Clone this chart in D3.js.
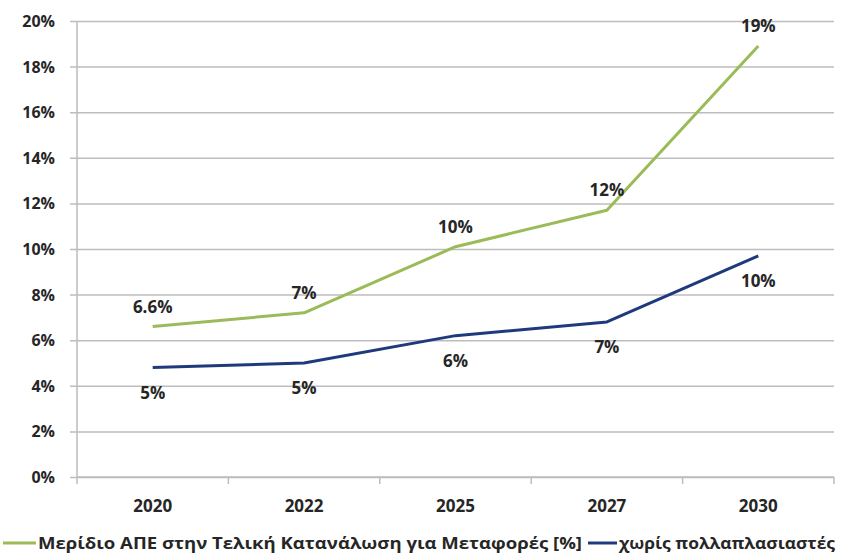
<!DOCTYPE html>
<html>
<head>
<meta charset="utf-8">
<script src="https://cdn.jsdelivr.net/npm/d3@7"></script>
<style>
  html, body { margin: 0; padding: 0; background: #fff; }
  svg { display: block; }
  text { font-family: "Open Sans", "DejaVu Sans", sans-serif; font-weight: 700; fill: #262626; }
</style>
</head>
<body>
<svg id="chart" width="844" height="553"></svg>
<script>
// Years on the category axis
const years = ["2020", "2022", "2025", "2027", "2030"];
// RES share in final transport energy consumption (%)
const resShare = [6.6, 7.2, 10.1, 11.7, 18.9];
const resShareLabels = ["6.6%", "7%", "10%", "12%", "19%"];
// Same share without multipliers (%)
const noMultipliers = [4.8, 5.0, 6.2, 6.8, 9.7];
const noMultipliersLabels = ["5%", "5%", "6%", "7%", "10%"];
// Value axis ticks (%)
const yTicks = [0, 2, 4, 6, 8, 10, 12, 14, 16, 18, 20];
// Legend entries
const seriesNames = ["Μερίδιο ΑΠΕ στην Τελική Κατανάλωση για Μεταφορές [%]", "χωρίς πολλαπλασιαστές"];

const svg = d3.select("#chart");
const plotL = 77, plotR = 834, plotT = 21, plotB = 477;
const green = "#9bbb59", navy = "#1f3a7c", grid = "#bdbdbd";

const x = d3.scaleBand().domain(years).range([plotL, plotR]).padding(0);
const y = d3.scaleLinear().domain([0, 20]).range([plotB, plotT]);
const cx = d => x(d) + x.bandwidth() / 2;

// Horizontal gridlines with outward ticks
const yAxis = d3.axisLeft(y).tickValues(yTicks).tickFormat(d => d + "%")
  .tickSize(-(plotR - plotL)).tickPadding(15);
const gy = svg.append("g").attr("transform", `translate(${plotL},0)`).call(yAxis);
gy.select(".domain").remove();
gy.selectAll(".tick line").attr("stroke", grid).attr("stroke-width", 1.5).attr("x1", -7);
gy.selectAll(".tick text").attr("font-size", 16).attr("fill", "#262626")
  .attr("font-family", "Open Sans, sans-serif").attr("font-weight", 700)
  .attr("x", -22).attr("dy", "0.34em");

// Vertical axis line
svg.append("line").attr("x1", plotL).attr("x2", plotL).attr("y1", plotT).attr("y2", plotB)
  .attr("stroke", grid).attr("stroke-width", 1.5);

// Category axis with boundary ticks
svg.append("line").attr("x1", plotL).attr("x2", plotR).attr("y1", plotB).attr("y2", plotB)
  .attr("stroke", grid).attr("stroke-width", 1.5);
const bounds = years.map(d => x(d)).concat([x(years[years.length - 1]) + x.bandwidth()]);
svg.append("g").selectAll("line").data(bounds).join("line")
  .attr("x1", d => d).attr("x2", d => d).attr("y1", plotB).attr("y2", plotB + 7)
  .attr("stroke", grid).attr("stroke-width", 1.5);
svg.append("g").selectAll("text").data(years).join("text")
  .attr("x", d => cx(d)).attr("y", 512).attr("text-anchor", "middle")
  .attr("font-size", 17).text(d => d);

// Series lines
const line = d3.line().x((d, i) => cx(years[i])).y(d => y(d));
svg.append("path").datum(resShare).attr("d", line)
  .attr("fill", "none").attr("stroke", green).attr("stroke-width", 3).attr("stroke-linejoin", "round");
svg.append("path").datum(noMultipliers).attr("d", line)
  .attr("fill", "none").attr("stroke", navy).attr("stroke-width", 3).attr("stroke-linejoin", "round");

// Data labels: above the green series, below the navy one
svg.append("g").selectAll("text").data(resShare).join("text")
  .attr("x", (d, i) => cx(years[i])).attr("y", d => y(d) - 14)
  .attr("text-anchor", "middle").attr("font-size", 17)
  .text((d, i) => resShareLabels[i]);
svg.append("g").selectAll("text").data(noMultipliers).join("text")
  .attr("x", (d, i) => cx(years[i])).attr("y", d => y(d) + 31)
  .attr("text-anchor", "middle").attr("font-size", 17)
  .text((d, i) => noMultipliersLabels[i]);

// Legend
const legend = [
  { name: seriesNames[0], color: green, x0: 3, x1: 36, tx: 38, tw: 544 },
  { name: seriesNames[1], color: navy, x0: 588, x1: 617, tx: 619, tw: 216 }
];
const lg = svg.append("g");
legend.forEach(e => {
  lg.append("line").attr("x1", e.x0).attr("x2", e.x1).attr("y1", 543).attr("y2", 543)
    .attr("stroke", e.color).attr("stroke-width", 3);
  lg.append("text").attr("x", e.tx).attr("y", 549).attr("font-size", 16)
    .attr("textLength", e.tw).attr("lengthAdjust", "spacingAndGlyphs").text(e.name);
});
</script>
</body>
</html>
